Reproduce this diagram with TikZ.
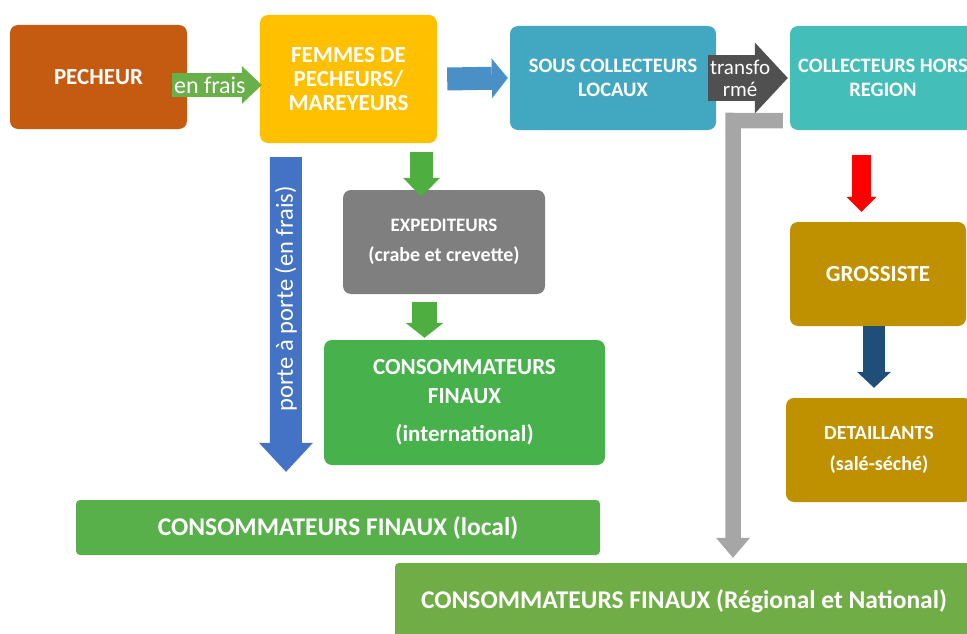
\documentclass[tikz,border=0pt]{standalone}
\usepackage{fontspec}
\setmainfont{Carlito}
\usetikzlibrary{arrows.meta,calc}
\definecolor{pechcol}{HTML}{C55A11}
\definecolor{femcol}{HTML}{FFC000}
\definecolor{souscol}{HTML}{42A8C1}
\definecolor{horscol}{HTML}{44BEB8}
\definecolor{expcol}{HTML}{7F7F7F}
\definecolor{intlcol}{HTML}{47B14B}
\definecolor{localcol}{HTML}{58B04A}
\definecolor{regcol}{HTML}{70AD47}
\definecolor{grocol}{HTML}{BF9000}
\definecolor{grnarrow}{HTML}{4FAE40}
\definecolor{fraisarrow}{HTML}{6AB04A}
\definecolor{bluearrow}{HTML}{4A90C6}
\definecolor{portearrow}{HTML}{4472C4}
\definecolor{darkarrow}{HTML}{505050}
\definecolor{greyarrow}{HTML}{A6A6A6}
\definecolor{navyarrow}{HTML}{1F4E79}
\begin{document}
\begin{tikzpicture}[x=1pt,y=-1pt,
    box/.style={rounded corners=8pt, inner sep=0pt, text=white, align=center,
        font=\bfseries\fontsize{20.5}{24}\selectfont},
    barrow/.style n args={3}{line width=#1, -{Triangle[width=#2,length=#3,line width=0pt]}},
    arrowtext/.style={text=white, align=center, inner sep=0pt}]
    \clip (0,0) rectangle (967,634);
    % boxes
    \node[box, fill=pechcol, minimum width=177pt, minimum height=104pt, font=\bfseries\fontsize{23}{24}\selectfont] (pecheur) at (98.5,77) {PECHEUR};
    \node[box, fill=femcol, minimum width=177pt, minimum height=128pt, font=\bfseries\fontsize{23}{24}\selectfont] (femmes) at (348.5,79) {FEMMES DE\\PECHEURS/\\MAREYEURS};
    \node[box, fill=souscol, minimum width=206pt, minimum height=104pt] (sous) at (613,78) {SOUS COLLECTEURS\\LOCAUX};
    \node[box, fill=horscol, minimum width=186pt, minimum height=104pt] (horsreg) at (883,78) {COLLECTEURS HORS\\REGION};
    \node[box, fill=expcol, minimum width=202pt, minimum height=104pt, font=\bfseries\fontsize{19}{22}\selectfont] (expediteurs) at (444,242) {EXPEDITEURS\\[8pt]{\fontsize{20}{22}\selectfont(crabe et crevette)}};
    \node[box, fill=intlcol, minimum width=281pt, minimum height=125pt, font=\bfseries\fontsize{23}{29}\selectfont] (intl) at (464.5,402.5) {CONSOMMATEURS\\FINAUX\\[9pt](international)};
    \node[box, fill=localcol, rounded corners=4pt, minimum width=524pt, minimum height=55pt, font=\bfseries\fontsize{25.5}{28}\selectfont] (local) at (338,527.5) {CONSOMMATEURS\ FINAUX (local)};
    \node[box, fill=grocol, minimum width=176pt, minimum height=104pt, font=\bfseries\fontsize{23}{26}\selectfont] (grossiste) at (878,274) {GROSSISTE};
    \node[box, fill=grocol, minimum width=186pt, minimum height=104pt, font=\bfseries\fontsize{20}{24}\selectfont] (detaillants) at (879,450) {DETAILLANTS\\[7pt](salé-séché)};
    \node[box, fill=regcol, rounded corners=4pt, minimum width=578pt, minimum height=77pt, font=\bfseries\fontsize{25.5}{28}\selectfont] (regional) at (684,601.5) {CONSOMMATEURS\ FINAUX (Régional et National)};
    % arrows
    \draw[barrow={24pt}{38pt}{20pt}, draw=fraisarrow] ($(pecheur.east)+(-15,8)$) -- ($(femmes.west)+(2,6)$)
        node[arrowtext, pos=0.42, font=\fontsize{24}{24}\selectfont] {en frais};
    \draw[barrow={23pt}{40pt}{16pt}, draw=bluearrow] ($(femmes.east)+(10,0)$) -- ($(sous.west)+(-2,0)$);
    \draw[barrow={45pt}{71pt}{33pt}, draw=darkarrow] ($(sous.east)+(-8,0)$) -- ($(horsreg.west)+(-2,0)$)
        node[arrowtext, pos=0.4, font=\fontsize{21}{22}\selectfont] {transfo\\rmé};
    \coordinate (bend) at (733,120.5);
    \draw[barrow={15.5pt}{34pt}{20pt}, draw=greyarrow, line join=miter] ($(horsreg.south west)+(-7,-9.5)$) -- (bend) -- ($(bend |- regional.north)+(0,-5)$);
    \draw[barrow={32pt}{54pt}{29pt}, draw=portearrow] ($(femmes.south west)+(26,14)$) -- ($(local.north)+(-52,-28)$)
        node[arrowtext, pos=0.45, rotate=90, font=\fontsize{24.5}{24}\selectfont] {porte à porte (en frais)};
    \draw[barrow={23pt}{37pt}{19pt}, draw=grnarrow] ($(femmes.south)+(73,9)$) -- ($(expediteurs.north)+(-22.5,7)$);
    \draw[barrow={25pt}{38pt}{15pt}, draw=grnarrow] ($(expediteurs.south)+(-19.5,8)$) -- ($(intl.north)+(-40,-2)$);
    \draw[barrow={19pt}{30pt}{15pt}, draw=red] ($(horsreg.south)+(-21.5,25)$) -- ($(grossiste.north)+(-16.5,-10)$);
    \draw[barrow={22pt}{34pt}{16pt}, draw=navyarrow] ($(grossiste.south)+(-4,0)$) -- ($(detaillants.north)+(-5,-10)$);
\end{tikzpicture}
\end{document}
